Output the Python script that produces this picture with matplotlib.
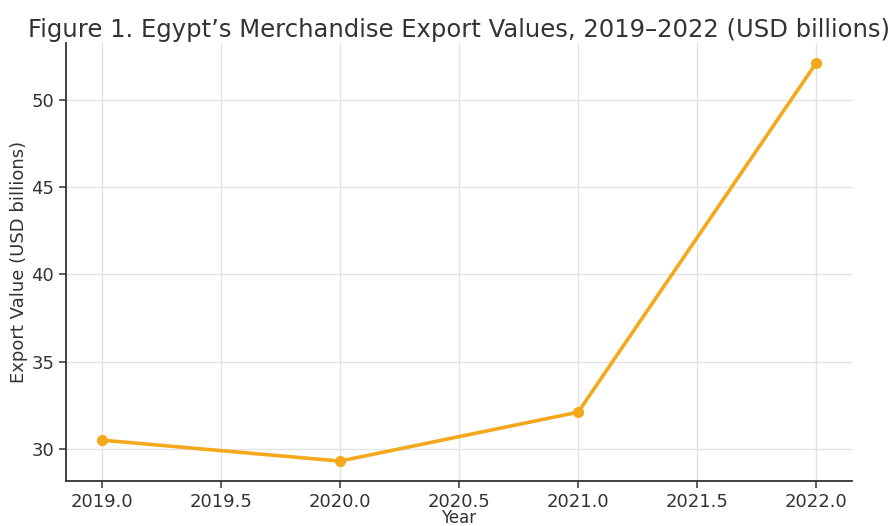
import matplotlib.pyplot as plt

years = [2019, 2020, 2021, 2022]
export_values = [30.5, 29.3, 32.1, 52.1]

fig = plt.figure(figsize=(8.92, 5.26), dpi=100)
ax = fig.add_axes([66 / 892, 45 / 526, 786 / 892, 438 / 526])

ax.plot(years, export_values, color='#f4a81c', linewidth=2.6,
        marker='o', markersize=7)

ax.set_title("Figure 1. Egypt\u2019s Merchandise Export Values, 2019\u20132022 (USD billions)",
             fontsize=17.5, color='#333333', pad=4)
ax.set_xlabel("Year", fontsize=12, color='#333333', labelpad=-1)
ax.set_ylabel("Export Value (USD billions)", fontsize=13, color='#333333', labelpad=2)

ax.grid(True, color='#e3e3e3', linewidth=1.0)
ax.set_axisbelow(True)
ax.spines['top'].set_visible(False)
ax.spines['right'].set_visible(False)
for s in ['left', 'bottom']:
    ax.spines[s].set_color('#333333')
    ax.spines[s].set_linewidth(1.3)
ax.tick_params(axis='both', labelsize=13, colors='#333333', length=5, width=1.1)
ax.set_xticks([2019.0, 2019.5, 2020.0, 2020.5, 2021.0, 2021.5, 2022.0])

fig.savefig('out.png', dpi=100)
